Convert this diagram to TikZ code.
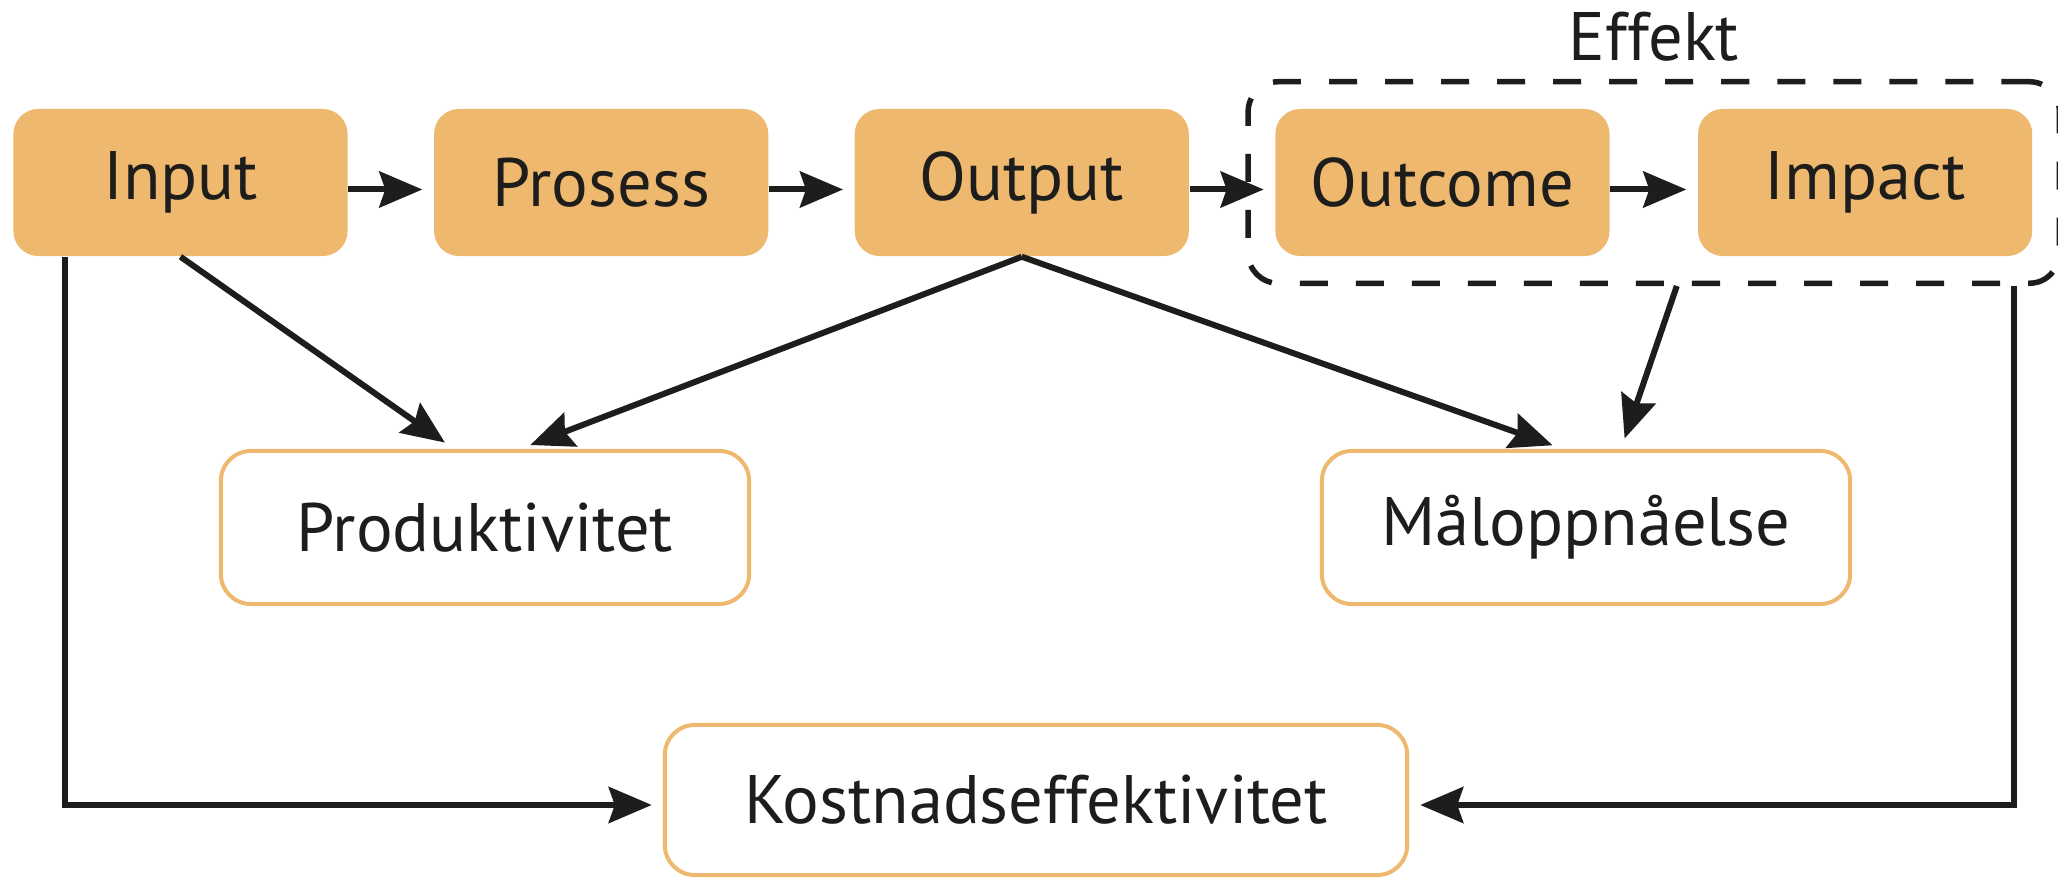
\documentclass[tikz,border=0pt]{standalone}
\usepackage{fontspec}
\setmainfont{PT Sans}
\usepackage{tikz}
\usetikzlibrary{positioning}
\usetikzlibrary{fit}
\usetikzlibrary{arrows.meta}
\definecolor{boxorange}{HTML}{EFB86F}
\definecolor{ink}{HTML}{1D1D1B}

\begin{document}
\begin{tikzpicture}[x=0.01cm, y=-0.01cm,
    stage/.style = {fill=boxorange, rounded corners=0.25cm, minimum width=3.34cm, minimum height=1.47cm, inner sep=0pt, text=ink, font=\fontsize{19.5}{23}\selectfont},
    measure/.style = {draw=boxorange, line width=0.04cm, fill=white, rounded corners=0.3cm, minimum width=5.28cm, minimum height=1.53cm, inner sep=0pt, text=ink, font=\fontsize{19.5}{23}\selectfont},
    effektbox/.style = {draw=ink, line width=0.055cm, dash pattern=on 0.28cm off 0.28cm, rounded corners=0.3cm, inner sep=0.265cm},
    flow/.style = {draw=ink, line width=0.06cm, shorten >=0.11cm, -{Stealth[length=0.43cm, width=0.36cm, inset=0.06cm]}}]
          \useasboundingbox (0,0) rectangle (2058,880);
          % top row
          \node[stage] (input) at (180.5,182.5) {Input};
          \node[stage] (prosess) [right=0.85cm of input] {Prosess};
          \node[stage] (output) [right=0.85cm of prosess] {Output};
          \node[stage] (outcome) [right=0.85cm of output] {Outcome};
          \node[stage] (impact) [right=0.87cm of outcome] {Impact};
          \node[effektbox, fit=(outcome)(impact)] (effekt) {};
          \node[inner sep=0pt, text=ink, font=\fontsize{19.5}{23}\selectfont] (effektlabel) [above=0.17cm of effekt] {Effekt};
          % measures
          \node[measure] (produktivitet) at (485,527.5) {Produktivitet};
          \node[measure] (maal) at (1586,527.5) {Måloppnåelse};
          \node[measure, minimum width=7.42cm, minimum height=1.5cm] (kostnad) at (1036,800) {Kostnadseffektivitet};
          \draw[flow] ([yshift=-0.07cm]input.east) -- ([yshift=-0.07cm]prosess.west);
          \draw[flow] ([yshift=-0.07cm]prosess.east) -- ([yshift=-0.07cm]output.west);
          \draw[flow] ([yshift=-0.07cm]output.east) -- ([yshift=-0.07cm]outcome.west);
          \draw[flow] ([yshift=-0.07cm]outcome.east) -- ([yshift=-0.07cm]impact.west);
          \draw[flow] (input.south) -- ([xshift=-0.31cm]produktivitet.north);
          \draw[flow] (output.south) -- ([xshift=0.35cm]produktivitet.north);
          \draw[flow] (output.south) -- ([xshift=-0.23cm]maal.north);
          \draw[flow] ([xshift=0.23cm]effekt.south) -- ([xshift=0.35cm]maal.north);
          \draw[flow] ([xshift=-1.15cm]input.south) |- ([yshift=-0.05cm]kostnad.west);
          \draw[flow] ([xshift=3.6cm]effekt.south) |- ([yshift=-0.05cm]kostnad.east);
        \end{tikzpicture}
\end{document}
